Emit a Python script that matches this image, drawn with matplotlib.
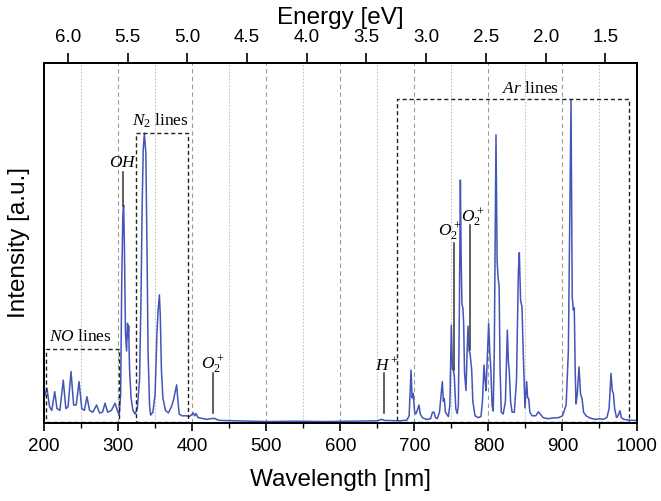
import matplotlib
matplotlib.use("Agg")
import matplotlib.pyplot as plt
from matplotlib.ticker import MultipleLocator, NullLocator
from matplotlib.patches import Rectangle

plt.rcParams['mathtext.fontset'] = 'custom'
plt.rcParams['mathtext.rm'] = 'Liberation Serif'
plt.rcParams['mathtext.it'] = 'Liberation Serif:italic'

# ---- spectrum (wavelength nm, intensity a.u.) ----
wavelength = [
    200.0, 204.0, 207.5, 210.5, 214.5, 217.5, 221.5, 226.0, 229.5, 232.5,
    236.5, 240.0, 243.5, 247.3, 251.0, 254.5, 258.0, 261.5, 266.0, 271.0,
    275.0, 279.0, 282.4, 286.0, 291.0, 295.9, 299.0, 301.5, 303.5, 305.0,
    306.5, 307.5, 308.5, 310.0, 311.5, 312.8, 313.6, 314.3, 315.5, 317.5,
    320.0, 323.0, 326.0, 329.0, 331.0, 332.5, 334.0, 335.5, 337.5, 339.0,
    340.5, 342.5, 344.0, 347.0, 350.0, 352.5, 354.0, 355.8, 357.0, 358.5,
    360.5, 364.0, 368.0, 372.0, 374.6, 377.0, 379.1, 380.5, 382.5, 386.0,
    392.0, 396.0, 399.0, 401.6, 403.5, 405.4, 408.0, 415.0, 420.0, 425.0,
    430.0, 435.0, 440.0, 460.0, 480.0, 500.0, 540.0, 580.0, 620.0, 650.0,
    656.0, 660.0, 680.0, 690.0, 693.0, 695.6, 697.0, 698.5, 700.5, 702.0,
    704.0, 706.3, 708.0, 711.0, 716.0, 722.0, 724.5, 726.6, 728.5, 731.0,
    734.0, 737.8, 739.2, 740.5, 742.0, 746.0, 748.0, 750.0, 751.5, 752.7,
    754.0, 756.0, 758.0, 759.5, 760.8, 762.2, 763.3, 764.3, 765.5, 766.6,
    767.8, 769.8, 771.0, 772.5, 774.0, 775.2, 777.5, 779.0, 782.0, 786.0,
    790.0, 792.0, 794.1, 795.5, 796.8, 798.0, 800.4, 801.8, 803.4, 805.0,
    806.5, 808.0, 810.3, 811.8, 813.0, 814.5, 815.8, 817.4, 820.0, 823.0,
    825.6, 827.0, 828.3, 830.0, 832.0, 835.0, 838.0, 840.5, 841.8, 843.5,
    845.4, 847.0, 849.4, 851.7, 853.0, 854.4, 856.0, 859.0, 864.0, 867.5,
    870.0, 874.0, 880.0, 888.0, 895.0, 900.0, 905.0, 908.0, 911.6, 913.2,
    914.7, 916.0, 917.2, 918.3, 920.0, 922.4, 924.5, 926.5, 928.5, 932.0,
    936.0, 940.0, 945.0, 950.0, 955.0, 960.0, 963.0, 965.6, 967.3, 968.8,
    970.5, 973.0, 975.0, 977.7, 979.5, 983.0, 990.0, 1000.0,
]
intensity = [
    0.070, 0.096, 0.045, 0.035, 0.087, 0.040, 0.035, 0.119, 0.040, 0.045,
    0.143, 0.050, 0.050, 0.115, 0.040, 0.035, 0.073, 0.035, 0.030, 0.050,
    0.028, 0.030, 0.055, 0.030, 0.035, 0.055, 0.035, 0.022, 0.080, 0.400,
    0.580, 0.605, 0.500, 0.250, 0.200, 0.277, 0.240, 0.270, 0.150, 0.070,
    0.035, 0.025, 0.040, 0.120, 0.350, 0.600, 0.760, 0.805, 0.750, 0.500,
    0.200, 0.050, 0.022, 0.030, 0.080, 0.250, 0.310, 0.356, 0.300, 0.150,
    0.070, 0.035, 0.028, 0.045, 0.062, 0.085, 0.106, 0.070, 0.025, 0.020,
    0.020, 0.018, 0.022, 0.028, 0.020, 0.026, 0.015, 0.012, 0.010, 0.012,
    0.013, 0.008, 0.007, 0.006, 0.005, 0.004, 0.005, 0.004, 0.005, 0.006,
    0.010, 0.007, 0.006, 0.008, 0.020, 0.147, 0.070, 0.082, 0.030, 0.025,
    0.035, 0.050, 0.025, 0.015, 0.010, 0.012, 0.030, 0.030, 0.015, 0.012,
    0.030, 0.115, 0.060, 0.068, 0.030, 0.018, 0.050, 0.272, 0.150, 0.147,
    0.130, 0.040, 0.026, 0.050, 0.300, 0.675, 0.450, 0.330, 0.320, 0.280,
    0.140, 0.090, 0.180, 0.269, 0.200, 0.194, 0.147, 0.060, 0.020, 0.015,
    0.018, 0.060, 0.161, 0.120, 0.090, 0.150, 0.277, 0.200, 0.147, 0.050,
    0.033, 0.200, 0.800, 0.450, 0.406, 0.380, 0.150, 0.030, 0.025, 0.060,
    0.258, 0.170, 0.142, 0.060, 0.030, 0.030, 0.120, 0.420, 0.473, 0.340,
    0.323, 0.200, 0.042, 0.115, 0.070, 0.068, 0.030, 0.020, 0.020, 0.031,
    0.025, 0.015, 0.012, 0.014, 0.015, 0.020, 0.050, 0.200, 0.897, 0.350,
    0.314, 0.320, 0.150, 0.053, 0.080, 0.156, 0.080, 0.068, 0.030, 0.020,
    0.015, 0.012, 0.010, 0.012, 0.010, 0.015, 0.040, 0.138, 0.090, 0.082,
    0.040, 0.015, 0.020, 0.034, 0.015, 0.010, 0.008, 0.007,
]

# region boxes: (label, x0, x1, top)
box_labels = ['NO', 'N2', 'Ar']
box_x0 = [202.7, 324.2, 677.0]
box_x1 = [301.3, 394.0, 990.3]
box_top = [0.205, 0.806, 0.899]

energy_ticks = [6.0, 5.5, 5.0, 4.5, 4.0, 3.5, 3.0, 2.5, 2.0, 1.5]
wl_ticks = [200, 300, 400, 500, 600, 700, 800, 900, 1000]

BLUE = '#4355B8'
SANS = 'Liberation Sans'
SERIF = 'Liberation Serif'

fig = plt.figure(figsize=(6.61, 5.01), dpi=100)
ax = fig.add_axes([44/661, 78/501, 592.5/661, 360/501])

ax.set_xlim(200, 1000)
ax.set_ylim(0, 1.0)

# grid lines at major (dashed) and minor (dotted) wavelength ticks
for w in range(250, 1000, 50):
    if w % 100 == 0:
        ax.axvline(w, color='#9a9a9a', lw=0.8, ls=(0, (4, 3)), zorder=0)
    else:
        ax.axvline(w, color='#c4c4c4', lw=0.8, ls=(0, (1.5, 1.5)), zorder=0)

ax.plot(wavelength, intensity, color=BLUE, lw=1.1, zorder=3)

for x0, x1, top in zip(box_x0, box_x1, box_top):
    ax.add_patch(Rectangle((x0, 0.004), x1 - x0, top - 0.004, fill=False,
                           ec='#222222', lw=1.0, ls=(0, (3, 2)), zorder=4))

# annotations
ann_kw = dict(color='#333333', lw=1.1, zorder=5)
ax.plot([428, 428], [0.028, 0.139], **ann_kw)
ax.plot([659.5, 659.5], [0.028, 0.139], **ann_kw)
ax.plot([307.1, 307.1], [0.603, 0.698], **ann_kw)
ax.plot([754.0, 754.0], [0.147, 0.499], **ann_kw)
ax.plot([775.7, 775.7], [0.203, 0.550], **ann_kw)

tfs = 12.5
ax.text(428, 0.161, r'$O_2^+$', ha='center', va='center', fontsize=tfs)
ax.text(662.7, 0.161, r'$H^+$', ha='center', va='center', fontsize=tfs)
ax.text(307, 0.726, r'$OH$', ha='center', va='center', fontsize=tfs)
ax.text(748.2, 0.531, r'$O_2^+$', ha='center', va='center', fontsize=tfs)
ax.text(778.9, 0.569, r'$O_2^+$', ha='center', va='center', fontsize=tfs)
ax.text(356.6, 0.84, r'$N_2$ lines', ha='center', va='center', fontsize=tfs, family=SERIF)
ax.text(248.6, 0.24, r'$NO$ lines', ha='center', va='center', fontsize=tfs, family=SERIF)
ax.text(856.2, 0.927, r'$Ar$ lines', ha='center', va='center', fontsize=tfs, family=SERIF)

# axes styling
for s in ax.spines.values():
    s.set_linewidth(1.3)
ax.yaxis.set_major_locator(NullLocator())
ax.set_xticks(wl_ticks)
ax.xaxis.set_minor_locator(MultipleLocator(50))
ax.tick_params(axis='x', which='major', direction='out', length=6, width=1.2,
               labelsize=13.5, pad=5)
ax.tick_params(axis='x', which='minor', direction='out', length=3.5, width=1.0)
for lab in ax.get_xticklabels():
    lab.set_fontfamily(SANS)
ax.set_xlabel('Wavelength [nm]', fontsize=17.5, family=SANS, labelpad=10)
ax.set_ylabel('Intensity [a.u.]', fontsize=17.5, family=SANS, labelpad=10)

# top energy axis (linear, from 1239.84/200 to 1239.84/1000)
ax2 = ax.twiny()
ax2.set_xlim(1239.84 / 200, 1239.84 / 1000)
ax2.set_xticks(energy_ticks)
ax2.set_xticklabels([f'{e:.1f}' for e in energy_ticks])
ax2.tick_params(axis='x', direction='out', length=7, width=1.2, labelsize=13.5, pad=5)
for lab in ax2.get_xticklabels():
    lab.set_fontfamily(SANS)
ax2.set_xlabel('Energy [eV]', fontsize=17.5, family=SANS, labelpad=4)
for s in ax2.spines.values():
    s.set_linewidth(1.3)

fig.savefig('out.png', dpi=100)
